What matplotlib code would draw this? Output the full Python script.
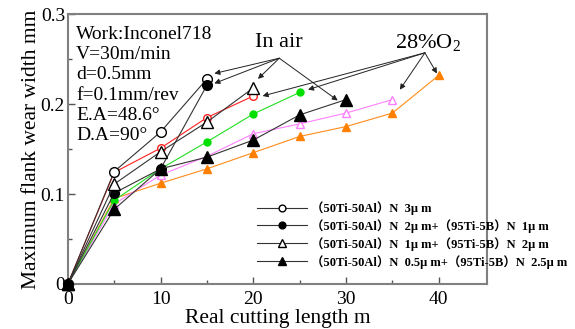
import matplotlib
matplotlib.use("Agg")
import matplotlib.pyplot as plt

plt.rcParams['font.family'] = ['Liberation Serif', 'Noto Sans CJK SC', 'DejaVu Sans']
plt.rcParams['mathtext.fontset'] = 'custom'
plt.rcParams['mathtext.rm'] = 'Liberation Serif'

# cutting length (m) and flank wear (mm), in air
x_a = [0, 5, 10, 15]
y_a = [0, 0.125, 0.169, 0.228]
x_b = [0, 5, 10, 15]
y_b = [0, 0.101, 0.128, 0.221]
x_c = [0, 5, 10, 15, 20]
y_c = [0, 0.111, 0.147, 0.180, 0.218]
x_d = [0, 5, 10, 15, 20, 25, 30]
y_d = [0, 0.083, 0.128, 0.141, 0.160, 0.188, 0.205]

# in 28% O2
x_e = [0, 5, 10, 15, 20]
y_e = [0, 0.124, 0.151, 0.185, 0.209]
x_f = [0, 5, 10, 15, 20, 25]
y_f = [0, 0.093, 0.128, 0.158, 0.189, 0.213]
x_g = [0, 5, 10, 15, 20, 25, 30, 35]
y_g = [0, 0.089, 0.121, 0.142, 0.167, 0.178, 0.190, 0.205]
x_h = [0, 5, 10, 15, 20, 25, 30, 35, 40]
y_h = [0, 0.095, 0.112, 0.128, 0.146, 0.164, 0.175, 0.190, 0.232]

labels = ['（50Ti-50Al）N  3μ m',
          '（50Ti-50Al）N  2μ m+（95Ti-5B）N  1μ m',
          '（50Ti-50Al）N  1μ m+（95Ti-5B）N  2μ m',
          '（50Ti-50Al）N  0.5μ m+（95Ti-5B）N  2.5μ m']

fig = plt.figure(figsize=(5.75, 3.29), dpi=100)
ax = fig.add_axes([0.118, 0.137, 0.729, 0.82])

kw = dict(lw=0.8, clip_on=False, zorder=3)
# coloured 28%O2 series first so black ones sit on top
ax.plot(x_h, y_h, color='#ff8c1a', marker='^', ms=6, mfc='#ff8000', mec='#ff8000', **kw)
ax.plot(x_g, y_g, color='#ff80ff', marker='^', ms=6, mfc='white', mec='#ff80ff', **kw)
ax.plot(x_f, y_f, color='#22dd22', marker='o', ms=5, mfc='#00e000', mec='#00e000', **kw)
ax.plot(x_e, y_e, color='#ff2020', marker='o', ms=5.5, mfc='white', mec='#ff2020', **kw)

h1, = ax.plot(x_a, y_a, color='#333333', marker='o', ms=7, mfc='white', mec='k', **kw)
h2, = ax.plot(x_b, y_b, color='#333333', marker='o', ms=7, mfc='k', mec='k', **kw)
h3, = ax.plot(x_c, y_c, color='#333333', marker='^', ms=8, mfc='white', mec='k', **kw)
h4, = ax.plot(x_d, y_d, color='#333333', marker='^', ms=8, mfc='k', mec='k', **kw)

ax.set_xlim(0, 45.2)
ax.set_ylim(0, 0.3)
ax.set_xticks([0, 10, 20, 30, 40])
ax.set_xticks([5, 15, 25, 35], minor=True)
ax.set_yticks([0, 0.1, 0.2, 0.3])
ax.set_yticklabels(['0', '0.1', '0.2', '0.3'])
ax.set_yticks([0.05, 0.15, 0.25], minor=True)
ax.tick_params(which='both', direction='in', labelsize=14, color='#555555')
ax.tick_params(which='major', length=5, width=1)
ax.tick_params(which='minor', length=3, width=1)
ax.tick_params(axis='x', pad=5)
ax.tick_params(axis='y', pad=2)
for s in ax.spines.values():
    s.set_color('#808080')
    s.set_linewidth(1.5)

ax.set_xlabel('Real cutting length m', fontsize=15.5, labelpad=1)
ax.set_ylabel('Maximum flank wear width mm', fontsize=15.5, labelpad=0)

ax.text(0.9, 0.287, 'Work:Inconel718\nV=30m/min\nd=0.5mm\nf=0.1mm/rev\nE.A=48.6°\nD.A=90°',
        fontsize=14, va='top', ha='left', linespacing=1.25)

# annotations
arw = dict(arrowstyle='-|>', color='#222222', lw=0.7, mutation_scale=8, shrinkA=0, shrinkB=0)
ax.text(22.7, 0.268, 'In air', fontsize=16, ha='center', va='center')
for tgt in [(15.8, 0.234), (15.8, 0.223), (20.5, 0.228), (29.1, 0.204)]:
    ax.annotate('', xy=tgt, xytext=(22.8, 0.251), arrowprops=arw)
ax.text(38.8, 0.268, r'28%O$_\mathregular{2}$', fontsize=16, ha='center', va='center')
for tgt in [(21.0, 0.209), (25.9, 0.216), (35.8, 0.216), (39.8, 0.234)]:
    ax.annotate('', xy=tgt, xytext=(38.5, 0.257), arrowprops=arw)

leg = ax.legend([h1, h2, h3, h4], labels, loc='upper left', bbox_to_anchor=(0.44, 0.325),
                frameon=False, fontsize=9, handlelength=4.0, handletextpad=0.3,
                labelspacing=0.33, markerscale=0.7, borderaxespad=0)
for t in leg.get_texts():
    t.set_fontweight('bold')

fig.savefig('out.png', dpi=100)
